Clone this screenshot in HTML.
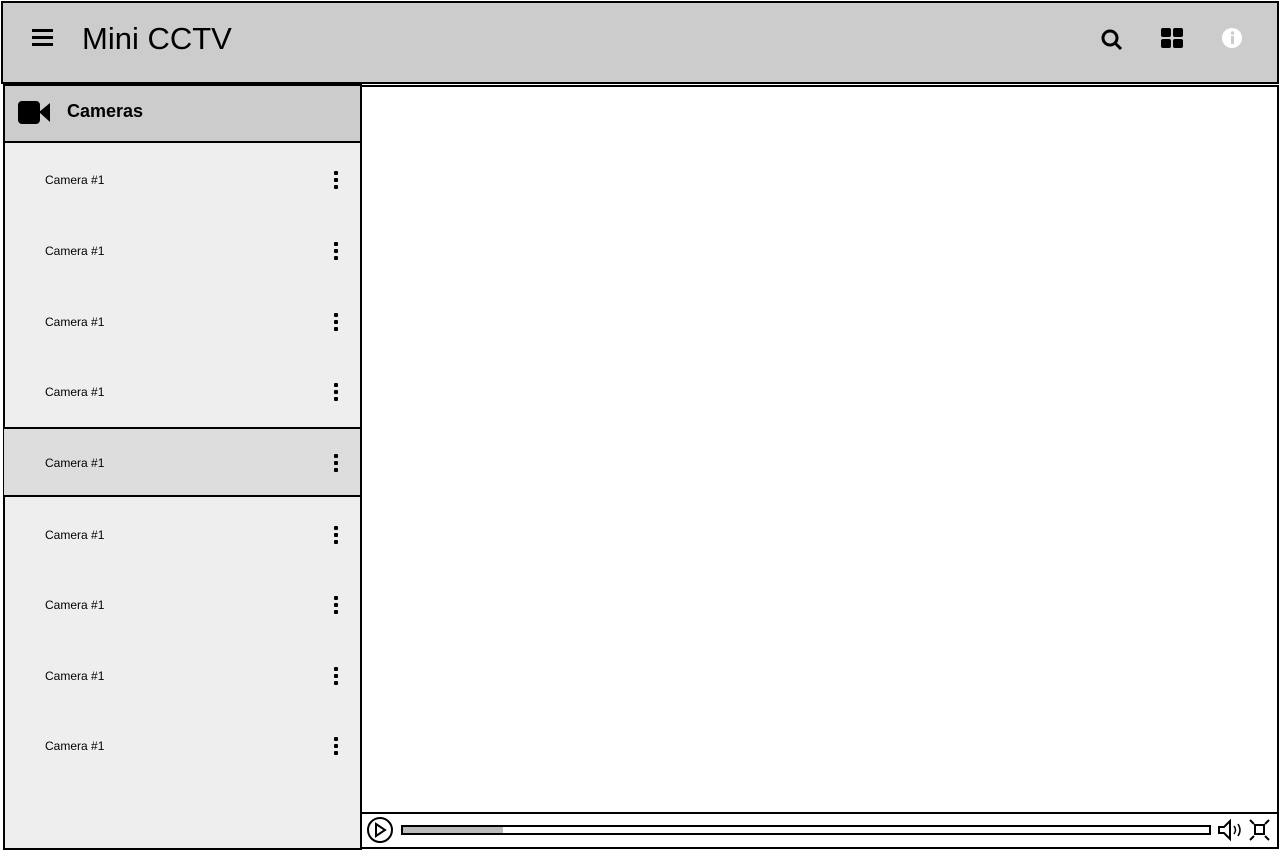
<!DOCTYPE html><html><head><style>
body{margin:0;width:1281px;height:851px;background:#fff;position:relative;overflow:hidden;font-family:"Liberation Sans",sans-serif}
div{box-sizing:border-box;position:absolute}
.it{left:45px;font-size:12px;color:#000}
.dt{left:334px;width:5px;height:18px}
.dt i{display:block;width:4px;height:4px;background:#000;margin-bottom:3px;border-radius:1px}
</style></head><body>
<div style="left:1px;top:1px;width:1278px;height:83px;background:#ccc;border:2px solid #000"></div>
<div style="left:32px;top:29px;width:21px;height:3px;background:#000;box-shadow:0 7px 0 #000,0 14px 0 #000"></div>
<div style="left:82px;top:21px;font-size:31px;color:#000">Mini CCTV</div>
<svg style="position:absolute;left:1100px;top:28px" width="24" height="24"><circle cx="10" cy="10" r="7" fill="none" stroke="#000" stroke-width="3"/><line x1="15" y1="15" x2="21" y2="21" stroke="#000" stroke-width="3"/></svg>
<svg style="position:absolute;left:1160px;top:27px" width="24" height="22"><rect x="1" y="1" width="10" height="9" rx="2"/><rect x="13" y="1" width="10" height="9" rx="2"/><rect x="1" y="12" width="10" height="9" rx="2"/><rect x="13" y="12" width="10" height="9" rx="2"/></svg>
<svg style="position:absolute;left:1221px;top:27px" width="22" height="22"><circle cx="11" cy="11" r="10" fill="#fff"/><rect x="10" y="9" width="3" height="8" fill="#ccc"/><circle cx="11.5" cy="6" r="1.7" fill="#ccc"/></svg>
<div style="left:3px;top:84px;width:359px;height:766px;background:#eee;border:2px solid #000"></div>
<div style="left:3px;top:84px;width:359px;height:59px;background:#ccc;border:2px solid #000"></div>
<svg style="position:absolute;left:18px;top:101px" width="33" height="24"><rect x="0" y="0" width="22" height="23" rx="4"/><polygon points="21,11 32,2 32,21"/></svg>
<div style="left:67px;top:101px;font-size:18px;font-weight:bold">Cameras</div>
<div style="left:4px;top:427px;width:358px;height:70px;background:#ddd;border-top:2px solid #000;border-bottom:2px solid #000"></div>
<div class="it" style="top:173px">Camera #1</div><div class="dt" style="top:171px"><i></i><i></i><i></i></div>
<div class="it" style="top:244px">Camera #1</div><div class="dt" style="top:242px"><i></i><i></i><i></i></div>
<div class="it" style="top:315px">Camera #1</div><div class="dt" style="top:313px"><i></i><i></i><i></i></div>
<div class="it" style="top:385px">Camera #1</div><div class="dt" style="top:383px"><i></i><i></i><i></i></div>
<div class="it" style="top:456px">Camera #1</div><div class="dt" style="top:454px"><i></i><i></i><i></i></div>
<div class="it" style="top:528px">Camera #1</div><div class="dt" style="top:526px"><i></i><i></i><i></i></div>
<div class="it" style="top:598px">Camera #1</div><div class="dt" style="top:596px"><i></i><i></i><i></i></div>
<div class="it" style="top:669px">Camera #1</div><div class="dt" style="top:667px"><i></i><i></i><i></i></div>
<div class="it" style="top:739px">Camera #1</div><div class="dt" style="top:737px"><i></i><i></i><i></i></div>
<div style="left:360px;top:85px;width:919px;height:764px;background:#fff;border:2px solid #000"></div>
<div style="left:361px;top:812px;width:917px;height:2px;background:#000"></div>
<svg style="position:absolute;left:366px;top:816px" width="28" height="28"><circle cx="14" cy="14" r="12" fill="none" stroke="#000" stroke-width="2"/><polygon points="10,8 19,14 10,20" fill="none" stroke="#000" stroke-width="2"/></svg>
<div style="left:401px;top:825px;width:810px;height:10px;border:2px solid #000;background:#fff"></div>
<div style="left:403px;top:827px;width:100px;height:6px;background:#bbb"></div>
<svg style="position:absolute;left:1217px;top:818px" width="60" height="26"><polygon points="2,9 7,9 13,3 13,21 7,15 2,15" fill="none" stroke="#000" stroke-width="2"/><path d="M17,8 Q20,12 17,16 M21,6 Q25,12 21,18" fill="none" stroke="#000" stroke-width="1.5"/><rect x="38" y="7" width="9" height="9" fill="none" stroke="#000" stroke-width="2"/><path d="M33,2 l4,4 M52,2 l-4,4 M33,22 l4,-4 M52,22 l-4,-4" stroke="#000" stroke-width="2"/></svg>
</body></html>
